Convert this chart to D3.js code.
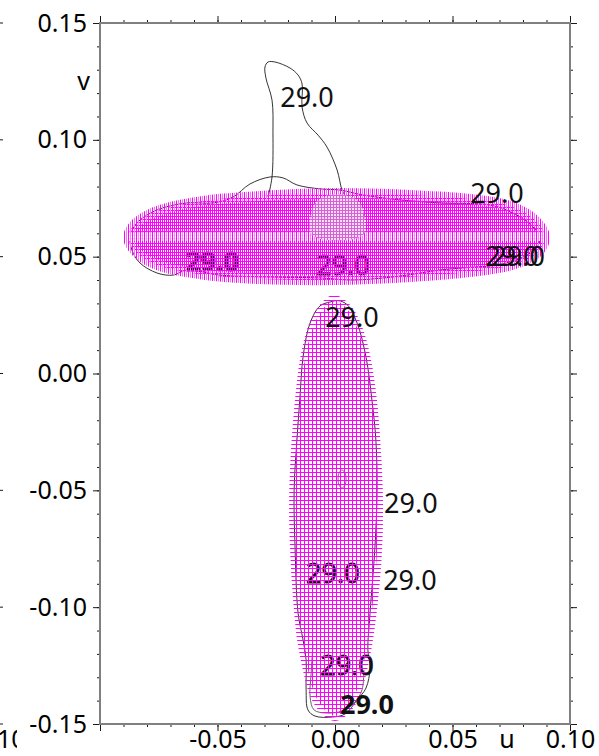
<!DOCTYPE html>
<html>
<head>
<meta charset="utf-8">
<script src="https://cdn.jsdelivr.net/npm/d3@7"></script>
<style>
  html, body { margin: 0; padding: 0; background: #fff; }
  svg { display: block; }
</style>
</head>
<body>
<svg id="chart" width="599" height="756"></svg>
<script>
// ---- axes -------------------------------------------------------------
const uDomain = [-0.10, 0.10];
const vDomain = [-0.15, 0.15];
const uMajorTicks = [-0.10, -0.05, 0.00, 0.05, 0.10];
const uTickLabels = ["", "-0.05", "0.00", "0.05", "0.10"];
const vMajorTicks = [-0.15, -0.10, -0.05, 0.00, 0.05, 0.10, 0.15];
const vTickLabels = ["-0.15", "-0.10", "-0.05", "0.00", "0.05", "0.10", "0.15"];
const uMinorTicks = d3.range(-10, 11).map(i => i / 100);
const vMinorTicks = d3.range(-15, 16).map(i => i / 100);

// ---- 29.0 contour lines (u, v) ------------------------------------------
const towerContour = [
  [-0.0285, 0.0755], [-0.0268, 0.0841], [-0.0264, 0.1030], [-0.0268, 0.1170],
  [-0.0294, 0.1265], [-0.0298, 0.1312], [-0.0285, 0.1333], [-0.0255, 0.1333],
  [-0.0191, 0.1307], [-0.0157, 0.1277], [-0.0140, 0.1239], [-0.0140, 0.1140],
  [-0.0119, 0.1072], [-0.0072, 0.1020], [-0.0034, 0.0969], [0.0009, 0.0871],
  [0.0030, 0.0785], [0.0047, 0.0755]
];
const upperLoopContour = [
  [-0.0872, 0.0584], [-0.0843, 0.0644], [-0.0757, 0.0700], [-0.0630, 0.0730],
  [-0.0519, 0.0730], [-0.0434, 0.0755], [-0.0362, 0.0811], [-0.0277, 0.0841],
  [-0.0221, 0.0837], [-0.0162, 0.0807], [-0.0064, 0.0790], [0.0021, 0.0785],
  [0.0119, 0.0764], [0.0277, 0.0743], [0.0447, 0.0730], [0.0660, 0.0721],
  [0.0757, 0.0687], [0.0843, 0.0627], [0.0872, 0.0584], [0.0860, 0.0541],
  [0.0800, 0.0498], [0.0689, 0.0464], [0.0587, 0.0455], [0.0447, 0.0443],
  [0.0277, 0.0417], [0.0077, 0.0400], [-0.0064, 0.0409], [-0.0277, 0.0413],
  [-0.0489, 0.0421], [-0.0630, 0.0443], [-0.0689, 0.0421], [-0.0757, 0.0430],
  [-0.0830, 0.0473], [-0.0864, 0.0528]
];
const lowerLoopContour = [
  [-0.0021, 0.0306], [-0.0064, 0.0289], [-0.0106, 0.0216], [-0.0136, 0.0070],
  [-0.0149, -0.0101], [-0.0162, -0.0285], [-0.0174, -0.0499], [-0.0170, -0.0743],
  [-0.0157, -0.1026], [-0.0136, -0.1140], [-0.0123, -0.1226], [-0.0123, -0.1354],
  [-0.0115, -0.1440], [-0.0085, -0.1466], [-0.0009, -0.1470], [0.0043, -0.1457],
  [0.0094, -0.1397], [0.0132, -0.1346], [0.0149, -0.1260], [0.0140, -0.1183],
  [0.0149, -0.1026], [0.0170, -0.0743], [0.0179, -0.0499], [0.0174, -0.0285],
  [0.0157, -0.0113], [0.0132, 0.0070], [0.0094, 0.0216], [0.0051, 0.0295],
  [0.0013, 0.0312]
];
const lowerInnerContour = [
  [-0.0094, -0.1162], [-0.0102, -0.1290], [-0.0106, -0.1384], [-0.0089, -0.1440],
  [-0.0034, -0.1453], [0.0030, -0.1444], [0.0085, -0.1406], [0.0115, -0.1354],
  [0.0123, -0.1269]
];
const smallLoopContour = [
  [0.0030, -0.0413], [0.0043, -0.0426], [0.0047, -0.0452], [0.0043, -0.0477],
  [0.0030, -0.0490], [0.0017, -0.0477], [0.0013, -0.0452], [0.0017, -0.0426]
];

// ---- marker-filled regions (u, v outlines) ----------------------------
const upperPatch = [
  [-0.0881, 0.0584], [-0.0851, 0.0640], [-0.0787, 0.0683], [-0.0681, 0.0717],
  [-0.0532, 0.0743], [-0.0319, 0.0760], [0.0000, 0.0772], [0.0319, 0.0764],
  [0.0574, 0.0747], [0.0745, 0.0717], [0.0851, 0.0657], [0.0894, 0.0584],
  [0.0864, 0.0520], [0.0766, 0.0468], [0.0574, 0.0434], [0.0319, 0.0413],
  [0.0000, 0.0400], [-0.0319, 0.0404], [-0.0574, 0.0425], [-0.0745, 0.0460],
  [-0.0838, 0.0511]
];
const lowerPatch = [
  [-0.0004, 0.0315], [-0.0055, 0.0272], [-0.0098, 0.0186], [-0.0128, 0.0058],
  [-0.0149, -0.0113], [-0.0166, -0.0327], [-0.0174, -0.0541], [-0.0170, -0.0755],
  [-0.0157, -0.0969], [-0.0140, -0.1140], [-0.0115, -0.1269], [-0.0085, -0.1376],
  [-0.0043, -0.1440], [0.0000, -0.1466], [0.0043, -0.1440], [0.0085, -0.1376],
  [0.0115, -0.1269], [0.0140, -0.1140], [0.0162, -0.0969], [0.0179, -0.0755],
  [0.0183, -0.0541], [0.0174, -0.0327], [0.0157, -0.0113], [0.0132, 0.0058],
  [0.0098, 0.0186], [0.0055, 0.0272]
];
const upperCore = [
  [-0.0098, 0.0592], [-0.0098, 0.0700], [-0.0072, 0.0742], [-0.0021, 0.0764],
  [0.0043, 0.0764], [0.0094, 0.0742], [0.0119, 0.0700], [0.0119, 0.0592]
];
const upperBandV = [0.0567, 0.0606];

// ---- contour labels ----------------------------------------------------
const labelsBelow = [
  { u: -0.0523, v: 0.0481, text: "29.0", bold: true },
  { u: 0.0034, v: 0.0460, text: "29.0", bold: false },
  { u: -0.0009, v: -0.0854, text: "29.0", bold: false },
  { u: 0.0051, v: -0.1248, text: "29.0", bold: false }
];
const labelsAbove = [
  { u: -0.0119, v: 0.1183, text: "29.0", bold: false },
  { u: 0.0689, v: 0.0768, text: "29.0", bold: false },
  { u: 0.0072, v: 0.0238, text: "29.0", bold: false },
  { u: 0.0323, v: -0.0558, text: "29.0", bold: false },
  { u: 0.0319, v: -0.0888, text: "29.0", bold: false },
  { u: 0.0136, v: -0.1418, text: "29.0", bold: true },
  { u: 0.0753, v: 0.0499, text: "29.0", bold: false },
  { u: 0.0779, v: 0.0499, text: "29.0", bold: false }
];

// ---- drawing ----------------------------------------------------------
const FONT = "'Noto Sans', 'DejaVu Sans', sans-serif";
const MAGENTA = "#ff00ff";
const svg = d3.select("#chart");
const x = d3.scaleLinear().domain(uDomain).range([100, 570]);
const y = d3.scaleLinear().domain(vDomain).range([724, 23]);

const openCurve = d3.line().x(d => x(d[0])).y(d => y(d[1])).curve(d3.curveCatmullRom.alpha(0.5));
const closedCurve = d3.line().x(d => x(d[0])).y(d => y(d[1])).curve(d3.curveCatmullRomClosed.alpha(0.5));

const defs = svg.append("defs");
// tile: list of horizontal rows [y, colour] and vertical columns [x, colour]
function meshPattern(id, w, h, rows, cols, bg) {
  const p = defs.append("pattern").attr("id", id)
    .attr("patternUnits", "userSpaceOnUse").attr("width", w).attr("height", h);
  if (bg) p.append("rect").attr("width", w).attr("height", h).attr("fill", bg);
  rows.forEach(([ry, c]) => p.append("rect").attr("x", 0).attr("y", ry).attr("width", w).attr("height", 1).attr("fill", c));
  cols.forEach(([cx, c]) => p.append("rect").attr("x", cx).attr("y", 0).attr("width", 1).attr("height", h).attr("fill", c));
}
meshPattern("meshUpper", 4, 3, [[0, MAGENTA]], [[0, MAGENTA], [2, MAGENTA]]);
meshPattern("meshLower", 4, 4, [[0, MAGENTA]], [[0, MAGENTA]]);
meshPattern("stubsUpper", 4, 3, [], [[0, MAGENTA], [2, "#ff70ff"]]);
meshPattern("stubsLower", 4, 4, [[0, MAGENTA]], []);
meshPattern("bandLines", 4, 3, [[1, "#ffd8ff"]], [[0, MAGENTA], [2, "#ff80ff"]], "#fff");
meshPattern("coreMesh", 3, 3, [[0, "#f050f0"]], [[0, "#c070c0"]], "#fbdcfb");

defs.append("clipPath").attr("id", "clipUpper").append("path").attr("d", closedCurve(upperPatch));
defs.append("clipPath").attr("id", "clipEdge").append("rect")
  .attr("x", 0).attr("y", 0).attr("width", 17).attr("height", 756);

// contour lines
const contourG = svg.append("g").attr("fill", "none").attr("stroke", "#1e1e1e")
  .attr("stroke-width", 1).attr("stroke-opacity", 0.9);
contourG.append("path").attr("d", openCurve(towerContour));
contourG.append("path").attr("d", closedCurve(upperLoopContour));
contourG.append("path").attr("d", closedCurve(lowerLoopContour));
contourG.append("path").attr("d", openCurve(lowerInnerContour)).attr("stroke", "#555");
contourG.append("path").attr("d", closedCurve(smallLoopContour)).attr("stroke", "#666");

function drawLabels(data, outline) {
  svg.append("g").selectAll("text").data(data).join("text")
    .attr("x", d => x(d.u)).attr("y", d => y(d.v))
    .attr("text-anchor", "middle").attr("dy", "0.35em")
    .attr("font-family", FONT).attr("font-size", 27)
    .attr("font-weight", d => d.bold ? "bold" : "normal")
    .attr("fill", "#111")
    .attr("stroke", outline ? "#111" : "none").attr("stroke-width", outline ? 0.8 : 0)
    .text(d => d.text);
}
drawLabels(labelsBelow, true);

// marker-filled regions
svg.append("path").attr("d", closedCurve(upperPatch))
  .attr("fill", "url(#meshUpper)")
  .attr("stroke", "url(#stubsUpper)").attr("stroke-width", 10);
svg.append("path").attr("d", closedCurve(lowerPatch))
  .attr("fill", "url(#meshLower)")
  .attr("stroke", "url(#stubsLower)").attr("stroke-width", 10);

const upperInner = svg.append("g").attr("clip-path", "url(#clipUpper)");
upperInner.append("rect")
  .attr("x", x(uDomain[0])).attr("width", x(uDomain[1]) - x(uDomain[0]))
  .attr("y", y(upperBandV[1])).attr("height", y(upperBandV[0]) - y(upperBandV[1]))
  .attr("fill", "url(#bandLines)");
upperInner.append("path").attr("d", closedCurve(upperCore)).attr("fill", "url(#coreMesh)");

drawLabels(labelsAbove, false);

// axes
function tidy(g) {
  g.select(".domain").remove();
  g.selectAll(".tick line").attr("stroke", "#1a1a1a").attr("stroke-width", 1);
  g.attr("font-family", FONT).attr("font-size", 25);
  g.selectAll(".tick text").attr("fill", "#000");
}
svg.append("g").attr("transform", "translate(0,724)")
  .call(d3.axisBottom(x).tickValues(uMinorTicks).tickSize(3).tickFormat("")).call(tidy);
svg.append("g").attr("transform", "translate(0,724)")
  .call(d3.axisBottom(x).tickValues(uMajorTicks).tickSize(7).tickFormat((d, i) => uTickLabels[i]))
  .call(tidy)
  .call(g => g.selectAll(".tick text").attr("y", 6).attr("dy", "0.71em"));
svg.append("g").attr("transform", "translate(0,23)")
  .call(d3.axisTop(x).tickValues(uMinorTicks).tickSize(3).tickFormat("")).call(tidy);
svg.append("g").attr("transform", "translate(0,23)")
  .call(d3.axisTop(x).tickValues(uMajorTicks).tickSize(7).tickFormat("")).call(tidy);
svg.append("g").attr("transform", "translate(100,0)")
  .call(d3.axisLeft(y).tickValues(vMinorTicks).tickSize(3).tickFormat("")).call(tidy);
svg.append("g").attr("transform", "translate(100,0)")
  .call(d3.axisLeft(y).tickValues(vMajorTicks).tickSize(7).tickPadding(6).tickFormat((d, i) => vTickLabels[i]))
  .call(tidy);
svg.append("g").attr("transform", "translate(570,0)")
  .call(d3.axisRight(y).tickValues(vMinorTicks).tickSize(3).tickFormat("")).call(tidy);
svg.append("g").attr("transform", "translate(570,0)")
  .call(d3.axisRight(y).tickValues(vMajorTicks).tickSize(7).tickFormat("")).call(tidy);

// plot frame
svg.append("rect")
  .attr("x", x(uDomain[0])).attr("y", y(vDomain[1]))
  .attr("width", x(uDomain[1]) - x(uDomain[0])).attr("height", y(vDomain[0]) - y(vDomain[1]))
  .attr("fill", "none").attr("stroke", "#808080").attr("stroke-width", 2);

// axis titles
svg.append("text").attr("x", 90).attr("y", y(0.125)).attr("dy", "0.35em")
  .attr("text-anchor", "end").attr("font-family", FONT).attr("font-size", 25).text("v");
svg.append("text").attr("x", x(0.0732)).attr("y", 730).attr("dy", "0.71em")
  .attr("text-anchor", "middle").attr("font-family", FONT).attr("font-size", 25).text("u");

// neighbouring panel, cut by the page edge
const edge = svg.append("g");
edge.selectAll("line").data(vMajorTicks).join("line")
  .attr("x1", 0).attr("x2", 3).attr("y1", d => y(d)).attr("y2", d => y(d))
  .attr("stroke", "#1a1a1a");
edge.append("text").attr("clip-path", "url(#clipEdge)")
  .attr("x", -24).attr("y", 730).attr("dy", "0.71em")
  .attr("font-family", FONT).attr("font-size", 25).text("0.10");
</script>
</body>
</html>
